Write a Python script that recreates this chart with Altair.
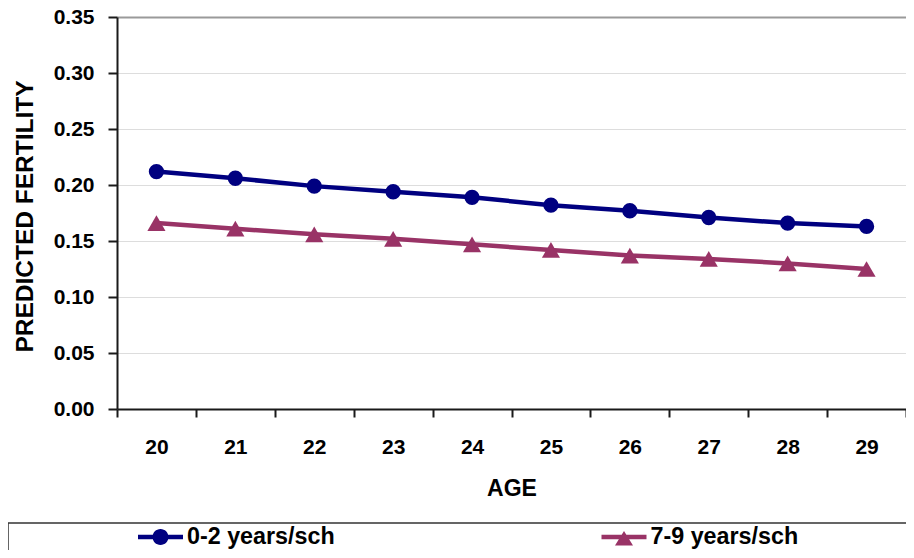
import altair as alt
import pandas as pd

ages = ["20", "21", "22", "23", "24", "25", "26", "27", "28", "29"]
series_names = ["0-2 years/sch", "7-9 years/sch"]
low_school = [0.212, 0.206, 0.199, 0.194, 0.189, 0.182, 0.177, 0.171, 0.166, 0.163]
high_school = [0.166, 0.161, 0.156, 0.152, 0.147, 0.142, 0.137, 0.134, 0.130, 0.125]
y_ticks = [0.0, 0.05, 0.10, 0.15, 0.20, 0.25, 0.30, 0.35]
colors = ["#000080", "#993366"]

rows = []
for a, v in zip(ages, low_school):
    rows.append({"AGE": a, "value": v, "series": series_names[0]})
for a, v in zip(ages, high_school):
    rows.append({"AGE": a, "value": v, "series": series_names[1]})
df = pd.DataFrame(rows)

FONT = "Liberation Sans"
W, H = 789, 392

# legend symbols: a line segment with the series marker on it
circle_path = "M-1.607,-0.16H1.607V0.16H-1.607Z M0.571,0A0.571,0.571,0,1,1,-0.571,0A0.571,0.571,0,1,1,0.571,0Z"
tri_path = "M-1.607,-0.16H1.607V0.16H-1.607Z M0,-0.43L0.643,0.6L-0.643,0.6Z"

x_enc = alt.X(
    "AGE:O",
    sort=ages,
    scale=alt.Scale(paddingInner=0, paddingOuter=0),
    axis=alt.Axis(
        title="AGE",
        labelAngle=0,
        tickBand="extent",
        tickSize=8,
        labelPadding=19,
        titleY=79,
        titleBaseline="middle",
        grid=False,
    ),
)
y_enc = alt.Y(
    "value:Q",
    scale=alt.Scale(domain=[0, 0.35], nice=False),
    axis=alt.Axis(
        title="PREDICTED FERTILITY",
        titleFontSize=24.5,
        values=y_ticks,
        format=".2f",
        tickSize=9,
        labelPadding=14,
        titleAngle=270,
        titleX=-92,
        titleY=199,
        titleAlign="center",
        titleBaseline="middle",
        gridColor={"condition": {"test": "datum.value >= 0.349", "value": "#9a9a9a"}, "value": "#dddddd"},
        gridWidth={"condition": {"test": "datum.value >= 0.349", "value": 2}, "value": 1},
    ),
)

common_legend = dict(
    orient="none",
    direction="horizontal",
    padding=0,
    symbolSize=784,
    symbolStrokeWidth=0,
    symbolOpacity=1,
    labelOffset=12.5,
    labelFont=FONT,
    labelFontSize=23.3,
    labelFontWeight="bold",
    labelColor="#000000",
    labelLimit=2000,
)


def series_layer(idx, shape, size, legend):
    name = series_names[idx]
    base = (
        alt.Chart(df)
        .transform_filter(alt.datum.series == name)
        .encode(
            x=x_enc,
            y=y_enc,
            color=alt.Color(
                "series:N",
                scale=alt.Scale(domain=[name], range=[colors[idx]]),
                legend=legend,
            ),
        )
    )
    line = base.mark_line(strokeWidth=4.5)
    pts = base.mark_point(filled=True, opacity=1, shape=shape, size=size)
    return alt.layer(line, pts)


legend1 = alt.Legend(
    title="\u200b",
    titleFontSize=48,
    titleOrient="left",
    titlePadding=138.5,
    legendX=-109,
    legendY=506,
    symbolType=circle_path,
    symbolFillColor=colors[0],
    labelExpr="pad(datum.label, 170) + '\u200b'",
    strokeColor="#333333",
    fillColor="#ffffff",
    **common_legend,
)
legend2 = alt.Legend(
    title=None,
    legendX=493,
    legendY=506,
    symbolType=tri_path,
    symbolFillColor=colors[1],
    **common_legend,
)

layer1 = series_layer(0, "circle", 235, legend1)
layer2 = series_layer(1, "triangle-up", 330, legend2)

chart = (
    alt.layer(layer1, layer2)
    .resolve_scale(color="independent")
    .properties(
        width=W,
        height=H,
        autosize=alt.AutoSizeParams(type="none"),
        padding={"left": 109, "top": 9, "right": 0, "bottom": 141},
    )
    .configure_view(stroke=None)
    .configure_axis(
        labelFont=FONT,
        labelFontSize=21,
        labelFontWeight="bold",
        labelColor="#000000",
        titleFont=FONT,
        titleFontSize=23,
        titleFontWeight="bold",
        titleColor="#000000",
        domainColor="#1a1a1a",
        domainWidth=2,
        tickColor="#1a1a1a",
        tickWidth=2,
    )
    .configure_legend(strokeWidth=1.5)
)

chart.save("out.html", embed_options={"renderer": "svg", "actions": False})
